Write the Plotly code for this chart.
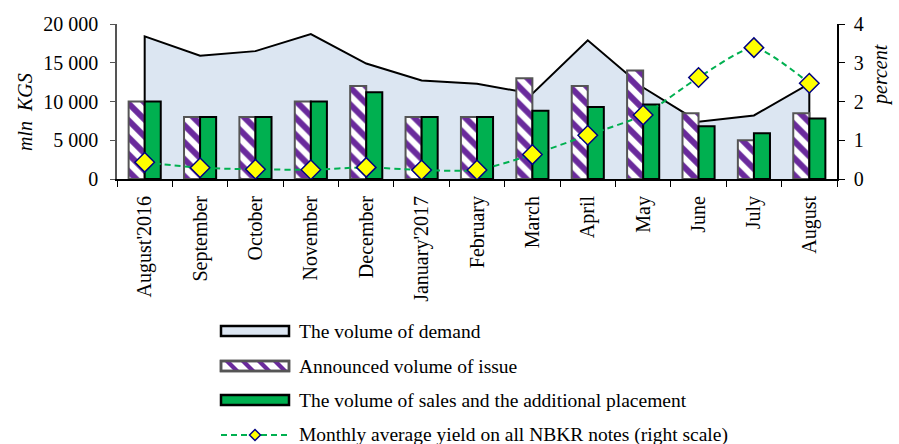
import plotly.graph_objects as go

months = ["August'2016", "September", "October", "November", "December", "January'2017",
          "February", "March", "April", "May", "June", "July", "August"]
demand = [18400, 15900, 16500, 18700, 14900, 12700, 12300, 11000, 17900, 11800, 7400, 8200, 12300]
announced = [10000, 8000, 8000, 10000, 12000, 8000, 8000, 13000, 12000, 14000, 8500, 5000, 8500]
sales = [10000, 8000, 8000, 10000, 11200, 8000, 8000, 8800, 9300, 9600, 6800, 5900, 7800]
yield_pct = [0.43, 0.29, 0.25, 0.24, 0.30, 0.23, 0.23, 0.63, 1.13, 1.65, 2.62, 3.39, 2.47]

legend_labels = ["The volume of demand",
                 "Announced volume of issue",
                 "The volume of sales and the additional placement",
                 "Monthly average yield on all NBKR notes (right scale)"]

FONT = "Liberation Serif, Times New Roman, serif"
W, H = 899, 444
ML, MR, MT, MB = 117, 62, 24, 265
PW, PH = W - ML - MR, H - MT - MB
PURPLE = "#6a2a9c"

def px(x):
    return (x - ML) / PW

def py(y):
    return (H - MB - y) / PH

# demand polygon closed down to zero at both ends
area_x = [months[0]] + months + [months[-1]]
area_y = [0] + demand + [0]

fig = go.Figure()
fig.add_trace(go.Scatter(
    x=area_x, y=area_y, mode="lines", fill="tozeroy", fillcolor="#dce6f2",
    line=dict(color="black", width=2), name=legend_labels[0], yaxis="y", hoverinfo="skip"))
fig.add_trace(go.Bar(
    x=months, y=announced, name=legend_labels[1], yaxis="y2",
    marker=dict(color="white", line=dict(color="#555555", width=2),
                pattern=dict(shape="\\", fgcolor=PURPLE, bgcolor="white",
                             size=12, solidity=0.5, fgopacity=1))))
fig.add_trace(go.Bar(
    x=months, y=sales, name=legend_labels[2], yaxis="y2",
    marker=dict(color="#00b050", line=dict(color="black", width=2))))
fig.add_trace(go.Scatter(
    x=months, y=yield_pct, mode="lines+markers", yaxis="y3", name=legend_labels[3],
    line=dict(color="#00b050", width=2, dash="6px,4px", shape="spline", smoothing=0.6),
    marker=dict(symbol="diamond", size=15, color="#ffff00", line=dict(color="#000080", width=1.5))))

# ---- custom legend (layout decoration) ----
shapes = []
annotations = []
sym_x0, sym_x1, text_x = 221, 289, 297
rows = [331, 366, 400, 435]
sh = 5  # half height of symbol box

def rect(y, fill, line_color, lw=2.5):
    return dict(type="rect", xref="paper", yref="paper",
                x0=px(sym_x0), x1=px(sym_x1), y0=py(y + sh), y1=py(y - sh),
                fillcolor=fill, line=dict(color=line_color, width=lw), layer="above")

shapes.append(rect(rows[0], "#dce6f2", "black"))
shapes.append(rect(rows[1], "white", "#555555"))
# hatch stripes for the announced symbol
y = rows[1]
for a in range(sym_x0 + 4, sym_x1 - 10, 16):
    path = "M {},{} L {},{} L {},{} L {},{} Z".format(
        px(a), py(y - sh + 1), px(a + 6), py(y - sh + 1),
        px(a + 14), py(y + sh - 1), px(a + 8), py(y + sh - 1))
    shapes.append(dict(type="path", xref="paper", yref="paper", path=path,
                       fillcolor=PURPLE, line=dict(width=0), layer="above"))
shapes.append(rect(rows[1], "rgba(0,0,0,0)", "#555555"))
shapes.append(rect(rows[2], "#00b050", "black"))
# yield symbol: dashed line + diamond
shapes.append(dict(type="line", xref="paper", yref="paper",
                   x0=px(sym_x0), x1=px(sym_x1), y0=py(rows[3]), y1=py(rows[3]),
                   line=dict(color="#00b050", width=2, dash="6px,4px"), layer="above"))
cx, cy, d = (sym_x0 + sym_x1) / 2, rows[3], 5.5
shapes.append(dict(type="path", xref="paper", yref="paper",
                   path="M {},{} L {},{} L {},{} L {},{} Z".format(
                       px(cx - d), py(cy), px(cx), py(cy - d), px(cx + d), py(cy), px(cx), py(cy + d)),
                   fillcolor="#ffff00", line=dict(color="#000080", width=1.5), layer="above"))

for lab, r in zip(legend_labels, rows):
    annotations.append(dict(text=lab, xref="paper", yref="paper", x=px(text_x), y=py(r),
                            xanchor="left", yanchor="middle", showarrow=False,
                            font=dict(size=19.5, family=FONT, color="black")))

annotations.append(dict(text="<i>mln  KGS</i>", textangle=-90, xref="paper", yref="paper",
                        x=px(25), y=py(112), xanchor="center", yanchor="middle",
                        showarrow=False, font=dict(size=20, family=FONT)))
annotations.append(dict(text="<i>percent</i>", textangle=-90, xref="paper", yref="paper",
                        x=px(880), y=py(75), xanchor="center", yanchor="middle",
                        showarrow=False, font=dict(size=20, family=FONT)))

fig.update_layout(
    width=W, height=H,
    margin=dict(l=ML, r=MR, t=MT, b=MB, autoexpand=False),
    paper_bgcolor="white", plot_bgcolor="white",
    font=dict(family=FONT, size=20, color="black"),
    separators=", ",
    barmode="group", bargap=0.42, bargroupgap=0,
    showlegend=False,
    xaxis=dict(type="category", tickangle=-90, tickson="boundaries", ticks="outside",
               ticklen=6, tickcolor="black", showline=True, linecolor="black", linewidth=2,
               showgrid=False, range=[-0.5, 12.5], tickfont=dict(size=20), automargin=False,
               ticklabelstandoff=7),
    yaxis=dict(range=[0, 20000], dtick=5000, tickformat=",", ticks="outside", ticklen=5,
               tickcolor="#555555", showline=True, linecolor="#555555", linewidth=1.5,
               showgrid=False, zeroline=False, tickfont=dict(size=20), automargin=False,
               ticklabelstandoff=8),
    yaxis2=dict(range=[0, 20000], overlaying="y", visible=False, showgrid=False),
    yaxis3=dict(range=[0, 4], dtick=1, overlaying="y", side="right", ticks="outside",
                ticklen=6, tickcolor="black", showline=True, linecolor="black", linewidth=1.5,
                showgrid=False, zeroline=False, tickfont=dict(size=20), automargin=False,
                ticklabelstandoff=5),
    shapes=shapes,
    annotations=annotations,
)

fig.write_html("out.html", config={"displayModeBar": False},
               post_script="document.body.style.margin='0px';document.body.style.overflow='hidden';")
